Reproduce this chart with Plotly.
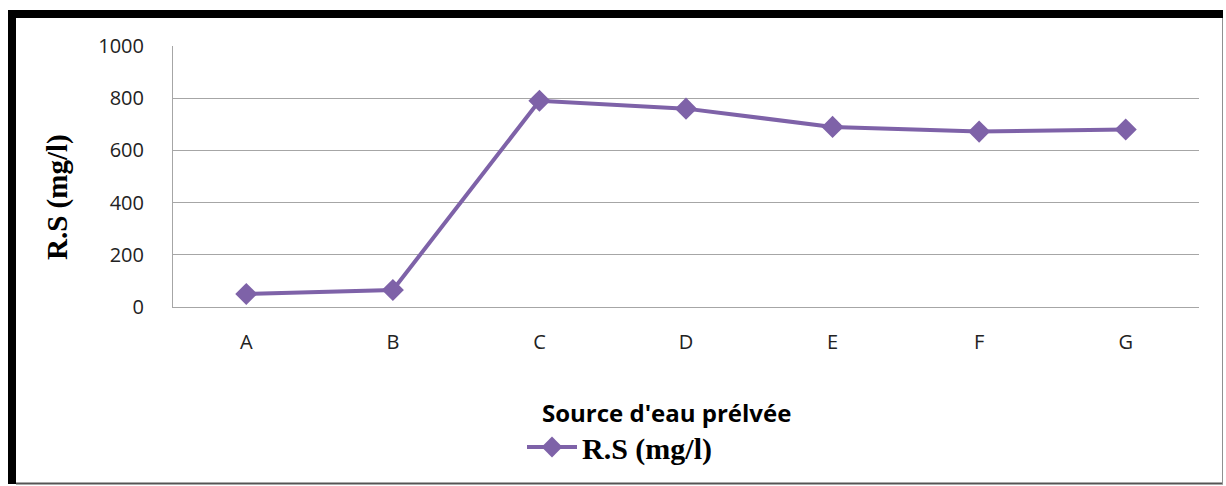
import plotly.graph_objects as go

categories = ["A", "B", "C", "D", "E", "F", "G"]
rs_values = [50, 65, 790, 760, 690, 672, 680]
y_ticks = [0, 200, 400, 600, 800, 1000]
series_name = "R.S (mg/l)"
x_title = "Source d'eau prélvée"
y_title = "R.S (mg/l)"

W, H = 1226, 486
L, R, T, B = 173, 1199, 46, 307  # plot area pixels


def px(x):
    return (x - L) / (R - L)


def py(y):
    return (B - y) / (B - T)


color = "#7E62A8"

fig = go.Figure()
fig.add_trace(go.Scatter(
    x=categories, y=rs_values, mode="lines+markers", name=series_name,
    line=dict(color=color, width=4),
    marker=dict(symbol="diamond", size=17, color=color),
))

fig.update_layout(
    width=W, height=H,
    margin=dict(l=L, r=W - R, t=T, b=H - B, pad=0),
    paper_bgcolor="white", plot_bgcolor="white",
    showlegend=True,
    legend=dict(
        x=px(522), y=py(447), xanchor="left", yanchor="middle",
        font=dict(family="Liberation Serif", size=30, color="black", weight="bold"),
        bgcolor="rgba(0,0,0,0)", itemwidth=50,
    ),
    xaxis=dict(
        type="category", range=[-0.5, 6.5],
        showgrid=False, showline=True, linecolor="#a6a6a6", linewidth=1,
        ticks="", tickfont=dict(family="Open Sans", size=20, color="#222"),
        ticklabelstandoff=17,
    ),
    yaxis=dict(
        range=[0, 1000], tickvals=y_ticks,
        showgrid=True, gridcolor="#a6a6a6", gridwidth=1,
        showline=True, linecolor="#a6a6a6", linewidth=1,
        zeroline=False, ticks="",
        tickfont=dict(family="Open Sans", size=20, color="#222"),
        ticklabelstandoff=24,
    ),
    annotations=[
        dict(text=x_title, xref="paper", yref="paper", x=px(666), y=py(413),
             xanchor="center", yanchor="middle", showarrow=False,
             font=dict(family="Open Sans", size=24, color="black", weight="bold")),
        dict(text=y_title, xref="paper", yref="paper", x=px(57), y=py(197),
             xanchor="center", yanchor="middle", showarrow=False, textangle=-90,
             font=dict(family="Liberation Serif", size=29, color="black", weight="bold")),
    ],
    shapes=[
        dict(type="rect", xref="paper", yref="paper", x0=px(8), x1=px(16), y0=py(484), y1=py(10),
             fillcolor="black", line=dict(width=0), layer="above"),
        dict(type="rect", xref="paper", yref="paper", x0=px(8), x1=px(1223), y0=py(18), y1=py(10),
             fillcolor="black", line=dict(width=0), layer="above"),
        dict(type="line", xref="paper", yref="paper", x0=px(16), x1=px(1223), y0=py(483.5), y1=py(483.5),
             line=dict(color="#555555", width=2), layer="above"),
        dict(type="line", xref="paper", yref="paper", x0=px(1222.5), x1=px(1222.5), y0=py(18), y1=py(484),
             line=dict(color="#909090", width=1), layer="above"),
    ],
)

fig.write_html("out.html")
